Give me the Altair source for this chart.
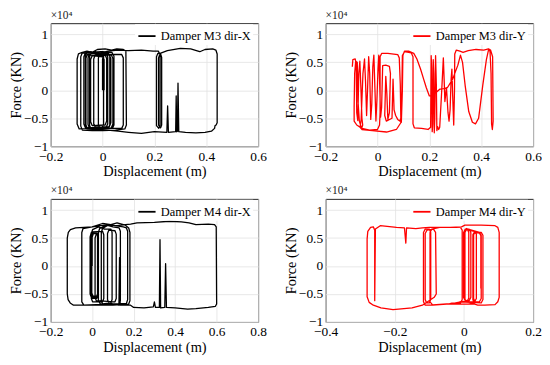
import altair as alt
import pandas as pd

FONT = "Liberation Serif, Times New Roman, serif"

# Each path: list of (displacement [m], force [x1e4 KN]) points along the recorded loop
m3x_path = [
    (0.000, 0.00), (0.000, 0.56), (0.006, 0.63), (0.026, 0.63), (0.032, 0.57),
    (0.032, -0.58), (0.026, -0.65), (-0.028, -0.66), (-0.034, -0.60),
    (-0.034, 0.56), (-0.028, 0.64), (0.034, 0.63), (0.040, 0.57),
    (0.040, -0.60), (0.034, -0.67), (-0.050, -0.68), (-0.056, -0.61),
    (-0.056, 0.58), (-0.050, 0.66), (-0.030, 0.69), (-0.010, 0.66), (0.014, 0.66), (0.020, 0.60),
    (0.020, -0.60), (0.014, -0.66), (-0.066, -0.67), (-0.072, -0.60),
    (-0.072, 0.60), (-0.066, 0.67), (-0.045, 0.69), (-0.025, 0.66), (0.022, 0.67), (0.028, 0.61),
    (0.028, -0.62), (0.022, -0.68), (-0.060, -0.69), (-0.066, -0.62),
    (-0.066, 0.62), (-0.060, 0.68), (-0.002, 0.69), (0.004, 0.63),
    (0.004, -0.60), (-0.002, -0.67), (-0.090, -0.69), (-0.098, -0.60),
    (-0.098, 0.56), (-0.093, 0.65), (-0.078, 0.68), (-0.060, 0.70), (-0.040, 0.68), (0.000, 0.69),
    (0.036, 0.68), (0.044, 0.61),
    (0.044, -0.62), (0.038, -0.68), (-0.044, -0.69), (-0.050, -0.63),
    (-0.050, 0.60), (-0.044, 0.67), (-0.020, 0.73), (0.010, 0.74), (0.035, 0.72), (0.055, 0.74),
    (0.080, 0.73), (0.090, 0.70),
    (0.092, -0.62), (0.086, -0.69), (0.050, -0.71), (0.000, -0.72), (-0.040, -0.72), (-0.078, -0.71),
    (-0.084, -0.64),
    (-0.084, 0.60), (-0.078, 0.67), (-0.040, 0.66), (0.040, 0.64), (0.074, 0.64), (0.080, 0.58),
    (0.080, -0.62), (0.074, -0.68), (-0.010, -0.68), (-0.016, -0.61),
    (-0.016, 0.58), (-0.010, 0.66), (0.020, 0.70), (0.060, 0.72), (0.100, 0.71), (0.150, 0.72),
    (0.195, 0.70), (0.215, 0.70), (0.222, 0.64),
    (0.222, -0.62), (0.217, -0.68), (0.208, -0.63),
    (0.208, 0.60), (0.213, 0.66), (0.224, 0.65), (0.228, 0.59),
    (0.228, -0.62), (0.224, -0.67), (0.216, -0.62),
    (0.216, 0.58), (0.222, 0.66), (0.250, 0.71), (0.300, 0.75), (0.340, 0.74), (0.362, 0.71),
    (0.375, 0.69), (0.395, 0.73), (0.425, 0.74), (0.437, 0.72), (0.442, 0.65),
    (0.442, -0.58), (0.438, -0.62), (0.434, -0.63), (0.432, -0.68), (0.420, -0.73), (0.395, -0.75),
    (0.360, -0.76), (0.320, -0.75), (0.294, -0.74), (0.291, 0.13), (0.289, -0.73), (0.286, -0.74),
    (0.284, -0.10), (0.282, -0.74), (0.254, -0.75), (0.251, -0.28), (0.248, -0.75), (0.200, -0.74),
    (0.150, -0.77), (0.100, -0.75), (0.060, -0.73), (0.020, -0.71), (-0.030, -0.70), (-0.058, -0.69),
    (-0.064, -0.62),
    (-0.064, 0.58), (-0.058, 0.64), (-0.020, 0.62), (0.010, 0.63), (0.016, 0.57),
    (0.016, -0.55), (0.010, -0.62), (-0.040, -0.63), (-0.046, -0.56),
    (-0.046, 0.55), (-0.040, 0.62), (0.000, 0.60), (0.006, 0.55), (0.006, 0.00),
]

m3y_path = [
    (-0.097, 0.42), (-0.095, 0.55), (-0.086, 0.56), (-0.082, 0.48), (-0.080, -0.40), (-0.076, -0.54),
    (-0.072, 0.30), (-0.068, 0.52), (-0.064, 0.05), (-0.060, -0.50), (-0.057, -0.62), (-0.062, -0.69),
    (-0.067, -0.66), (-0.063, -0.52), (-0.056, 0.30), (-0.050, 0.56), (-0.046, 0.15), (-0.042, -0.45),
    (-0.038, 0.05), (-0.034, 0.60), (-0.030, 0.30), (-0.026, -0.52), (-0.022, -0.25), (-0.018, 0.42),
    (-0.014, 0.63), (-0.010, 0.05), (-0.006, -0.55), (-0.002, -0.15), (0.002, 0.38), (0.005, 0.63),
    (0.008, 0.20), (0.012, -0.48), (0.016, -0.30), (0.020, 0.44), (0.032, 0.45), (0.046, 0.43),
    (0.050, 0.30), (0.046, -0.40), (0.040, -0.52), (0.036, -0.05), (0.032, 0.25), (0.028, -0.45),
    (0.034, -0.55), (0.056, -0.50), (0.060, 0.20), (0.064, -0.35), (0.070, -0.45), (0.078, -0.52),
    (0.086, -0.55), (0.090, -0.50), (0.088, 0.10), (0.084, 0.58), (0.078, 0.64), (0.040, 0.66),
    (0.016, 0.66), (0.010, 0.60), (0.010, -0.40), (0.008, -0.62), (0.000, -0.70), (-0.030, -0.71),
    (-0.060, -0.68), (-0.080, -0.62), (-0.090, -0.55), (-0.090, -0.30), (-0.088, 0.30), (-0.084, 0.52),
    (-0.078, 0.50), (-0.075, -0.20), (-0.070, -0.55), (-0.060, -0.70), (-0.020, -0.72), (0.035, -0.745),
    (0.073, -0.70), (0.090, -0.58), (0.094, 0.00), (0.096, 0.62), (0.104, 0.69), (0.120, 0.68),
    (0.130, 0.67), (0.137, 0.60), (0.137, -0.60), (0.142, -0.67), (0.170, -0.68), (0.195, -0.70),
    (0.205, -0.66), (0.207, 0.62), (0.209, 0.40), (0.211, -0.74), (0.213, -0.60), (0.215, 0.55),
    (0.217, 0.30), (0.219, -0.76), (0.221, -0.50), (0.224, 0.62), (0.227, 0.10), (0.229, -0.72),
    (0.232, -0.65), (0.236, -0.70), (0.240, -0.66), (0.248, 0.02), (0.254, 0.58), (0.257, 0.20),
    (0.260, -0.20), (0.266, 0.05), (0.272, -0.40), (0.276, -0.55), (0.280, -0.35), (0.284, 0.20),
    (0.287, 0.38), (0.290, -0.10), (0.294, -0.62), (0.297, 0.00), (0.298, 0.65), (0.304, 0.72),
    (0.318, 0.70), (0.330, 0.68), (0.350, 0.71), (0.380, 0.73), (0.410, 0.72), (0.428, 0.74),
    (0.436, 0.72), (0.444, 0.60), (0.446, -0.55), (0.443, -0.70), (0.440, -0.60), (0.438, 0.30),
    (0.434, 0.70), (0.428, 0.72), (0.420, 0.55), (0.406, 0.09), (0.390, -0.50), (0.378, -0.60),
    (0.366, -0.57), (0.352, -0.38), (0.338, 0.09), (0.328, 0.50), (0.320, 0.63), (0.310, 0.45),
    (0.290, 0.20), (0.270, 0.05), (0.255, 0.03), (0.240, 0.02), (0.228, -0.03), (0.212, -0.09),
    (0.200, -0.10), (0.188, 0.05), (0.178, 0.20), (0.166, 0.38), (0.152, 0.56), (0.140, 0.66),
    (0.120, 0.70), (0.104, 0.70), (0.098, 0.62), (0.096, 0.00), (0.092, -0.58),
]

m4x_path = [
    (0.000, 0.00), (0.000, 0.52), (0.006, 0.58), (0.024, 0.58), (0.030, 0.52),
    (0.030, -0.48), (0.024, -0.54), (0.004, -0.54), (-0.002, -0.48),
    (-0.002, 0.52), (0.004, 0.60), (0.020, 0.60), (0.026, 0.54),
    (0.026, -0.50), (0.020, -0.56), (-0.004, -0.56), (-0.010, -0.50),
    (-0.010, 0.52), (-0.004, 0.60), (0.022, 0.60), (0.028, 0.54),
    (0.028, -0.52), (0.022, -0.58), (0.002, -0.58), (-0.004, -0.52),
    (-0.004, 0.54), (0.002, 0.61), (0.050, 0.62), (0.056, 0.56),
    (0.056, -0.58), (0.050, -0.64), (0.002, -0.64), (-0.004, -0.58),
    (-0.004, 0.58), (0.002, 0.65), (0.030, 0.70), (0.060, 0.66), (0.090, 0.66), (0.096, 0.60),
    (0.096, -0.60), (0.090, -0.66), (0.040, -0.68), (0.030, -0.62),
    (0.030, 0.60), (0.036, 0.67), (0.070, 0.73), (0.100, 0.70), (0.130, 0.68), (0.136, 0.62),
    (0.136, -0.62), (0.130, -0.68), (0.050, -0.68), (0.044, -0.62),
    (0.044, 0.60), (0.050, 0.67), (0.080, 0.74), (0.110, 0.72), (0.150, 0.70), (0.165, 0.68),
    (0.171, 0.62),
    (0.171, -0.60), (0.165, -0.67), (-0.040, -0.70), (-0.050, -0.64),
    (-0.050, 0.60), (-0.044, 0.67), (0.000, 0.70), (0.050, 0.76), (0.090, 0.74), (0.120, 0.77),
    (0.160, 0.73), (0.176, 0.68), (0.182, 0.60),
    (0.182, -0.62), (0.176, -0.68), (0.100, -0.70), (0.000, -0.70), (-0.090, -0.70), (-0.106, -0.66),
    (-0.116, -0.60), (-0.120, -0.50),
    (-0.120, 0.50), (-0.115, 0.60), (-0.105, 0.65), (-0.080, 0.68), (-0.040, 0.69), (0.000, 0.70),
    (0.040, 0.72), (0.080, 0.73), (0.120, 0.72), (0.160, 0.74), (0.185, 0.75), (0.216, 0.77),
    (0.300, 0.78), (0.373, 0.80), (0.430, 0.79), (0.467, 0.77), (0.500, 0.74), (0.560, 0.75),
    (0.590, 0.74), (0.598, 0.70),
    (0.600, -0.68), (0.594, -0.72), (0.560, -0.74), (0.500, -0.76), (0.460, -0.77), (0.400, -0.75),
    (0.358, -0.74), (0.354, 0.04), (0.350, -0.74), (0.330, -0.75), (0.327, 0.47), (0.324, -0.74),
    (0.305, -0.74), (0.300, -0.64), (0.295, -0.73), (0.250, -0.75), (0.200, -0.74), (0.185, -0.70),
    (0.160, -0.70), (0.135, -0.70), (0.132, 0.15), (0.129, -0.70), (0.100, -0.68), (0.080, -0.66),
    (0.074, -0.60),
    (0.074, 0.58), (0.080, 0.64), (0.110, 0.63), (0.116, 0.57),
    (0.116, -0.58), (0.110, -0.64), (0.020, -0.62), (0.014, -0.56),
    (0.014, 0.50), (0.020, 0.57), (0.030, 0.56),
]

m4y_path = [
    (0.000, 0.00), (0.000, 0.60), (0.005, 0.66), (0.015, 0.66), (0.020, 0.60),
    (0.020, -0.56), (0.015, -0.62), (0.004, -0.62), (-0.001, -0.56),
    (-0.001, 0.60), (0.004, 0.66), (0.010, 0.66), (0.014, 0.60),
    (0.014, -0.58), (0.009, -0.63), (0.003, -0.60),
    (0.003, 0.60), (0.007, 0.65), (0.030, 0.62), (0.036, 0.57),
    (0.036, -0.58), (0.031, -0.64), (0.006, -0.64), (0.002, -0.58),
    (0.002, 0.62), (0.007, 0.67), (0.045, 0.60), (0.050, 0.55),
    (0.050, -0.58), (0.045, -0.64), (0.032, -0.64), (0.028, -0.58),
    (0.028, 0.56), (0.033, 0.61), (0.050, 0.60), (0.055, 0.55),
    (0.055, -0.60), (0.050, -0.66), (-0.010, -0.64), (-0.030, -0.67), (-0.070, -0.69), (-0.090, -0.70),
    (-0.098, -0.64),
    (-0.098, 0.60), (-0.093, 0.66), (-0.070, 0.69), (-0.030, 0.69), (-0.010, 0.69), (-0.005, 0.64),
    (-0.005, -0.60), (-0.010, -0.66), (-0.060, -0.68), (-0.100, -0.70), (-0.112, -0.70), (-0.117, -0.64),
    (-0.117, 0.60), (-0.112, 0.66), (-0.100, 0.66), (-0.096, 0.60),
    (-0.096, -0.60), (-0.100, -0.66), (-0.108, -0.66), (-0.112, -0.60),
    (-0.112, 0.58), (-0.107, 0.64), (-0.088, 0.66), (-0.082, 0.60),
    (-0.080, -0.50), (-0.086, -0.56), (-0.120, -0.70), (-0.150, -0.75), (-0.205, -0.78), (-0.240, -0.75),
    (-0.262, -0.70), (-0.274, -0.65), (-0.280, -0.55),
    (-0.280, 0.48), (-0.278, 0.62), (-0.270, 0.69), (-0.262, 0.70), (-0.258, 0.64), (-0.258, -0.62),
    (-0.256, 0.66), (-0.242, 0.72), (-0.195, 0.69), (-0.172, 0.68), (-0.168, 0.41), (-0.166, 0.68),
    (-0.139, 0.67), (-0.120, 0.68), (-0.100, 0.69), (-0.077, 0.69), (-0.040, 0.69), (-0.007, 0.70),
    (0.003, 0.73), (0.050, 0.73), (0.090, 0.72), (0.098, 0.69), (0.102, 0.60),
    (0.102, -0.56), (0.098, -0.64), (0.090, -0.69), (0.060, -0.70), (0.040, -0.70), (0.020, -0.66),
    (0.005, -0.64), (-0.007, -0.63), (-0.020, -0.66), (-0.035, -0.665), (-0.045, -0.68),
    (0.030, -0.68), (0.026, -0.60), (0.026, 0.56), (0.030, 0.60), (0.045, 0.59), (0.049, 0.54),
    (0.049, -0.40),
]

labels = ["Damper M3 dir-X", "Damper M3 dir-Y", "Damper M4 dir-X", "Damper M4 dir-Y"]
colors = ["#000000", "#ff0000", "#000000", "#ff0000"]
x_domains = [[-0.2, 0.6], [-0.2, 0.6], [-0.2, 0.8], [-0.4, 0.2]]
x_ticks = [
    [-0.2, 0, 0.2, 0.4, 0.6],
    [-0.2, 0, 0.2, 0.4, 0.6],
    [-0.2, 0, 0.2, 0.4, 0.6, 0.8],
    [-0.4, -0.2, 0, 0.2],
]
y_ticks = [-1, -0.5, 0, 0.5, 1]
y_domain = [-1, 1.2]
paths = [m3x_path, m3y_path, m4x_path, m4y_path]

PANEL_W, PANEL_H = 209, 124

AXIS_STYLE = dict(
    labelFont=FONT, titleFont=FONT, labelFontSize=13.5, titleFontSize=14.5,
    labelColor="black", titleColor="black", titleFontWeight="normal",
    gridColor="#e2e2e2", gridWidth=0.8, domain=False, ticks=False, tickSize=0,
    labelPadding=3, labelFlush=False, labelOverlap=False,
)


def panel(k):
    path = paths[k]
    df = pd.DataFrame({
        "disp": [p[0] for p in path],
        "force": [p[1] for p in path],
        "i": list(range(len(path))),
        "series": labels[k],
    })
    return alt.Chart(df).mark_line(strokeWidth=1.3, strokeJoin="round").encode(
        x=alt.X("disp:Q",
                scale=alt.Scale(domain=x_domains[k], nice=False, zero=False),
                axis=alt.Axis(values=x_ticks[k], format="~g", title="Displacement (m)",
                              titlePadding=2, **AXIS_STYLE)),
        y=alt.Y("force:Q",
                scale=alt.Scale(domain=y_domain, nice=False, zero=False),
                axis=alt.Axis(values=y_ticks, format="~g", title="Force (KN)", titleX=-27,
                              **AXIS_STYLE)),
        color=alt.Color("series:N",
                        scale=alt.Scale(domain=[labels[k]], range=[colors[k]]),
                        legend=alt.Legend(orient="none", legendX=85, legendY=1, title=None,
                                          symbolType="stroke", symbolSize=300, symbolStrokeWidth=1.8,
                                          labelFont=FONT, labelFontSize=12.5, labelColor="black",
                                          labelOffset=4, padding=2, fillColor="white")),
        order="i:Q",
    ).properties(
        width=PANEL_W, height=PANEL_H,
        title=alt.TitleParams("×10⁴", anchor="start", frame="group", fontSize=11.5,
                              font=FONT, fontWeight="normal", color="#222222", offset=2),
    )


row1 = alt.hconcat(panel(0), panel(1), spacing=16).resolve_scale(color="independent").resolve_legend(color="independent")
row2 = alt.hconcat(panel(2), panel(3), spacing=16).resolve_scale(color="independent").resolve_legend(color="independent")

chart = alt.vconcat(row1, row2, spacing=6).resolve_scale(color="independent").resolve_legend(
    color="independent"
).properties(
    padding=0, background="white"
).configure_view(
    stroke="#262626", strokeWidth=1
)

chart.save("out.html", embed_options={"renderer": "svg", "actions": False})
